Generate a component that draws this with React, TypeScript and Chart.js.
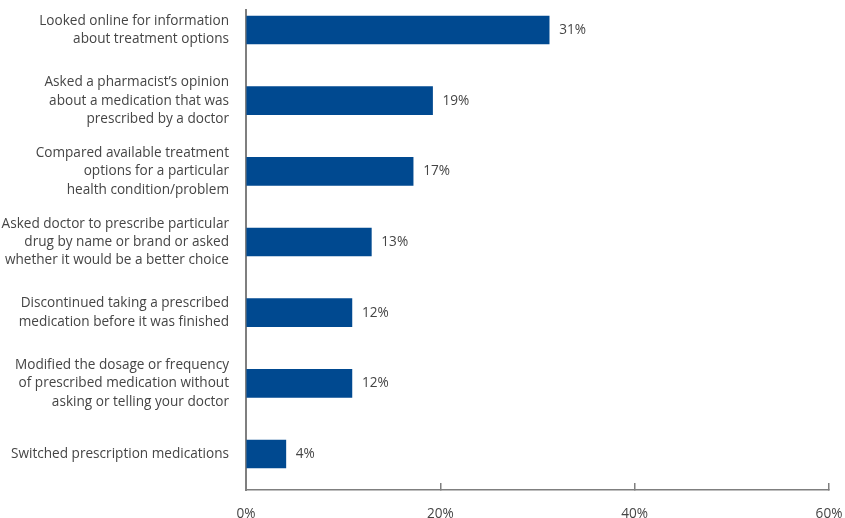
import React, { useEffect, useRef } from "react";
import { Chart, registerables } from "chart.js";

Chart.register(...registerables);

const categories: string[][] = [
  ["Looked online for information", "about treatment options"],
  ["Asked a pharmacist\u2019s opinion", "about a medication that was", "prescribed by a doctor"],
  ["Compared available treatment", "options for a particular", "health condition/problem"],
  ["Asked doctor to prescribe particular", "drug by name or brand or asked", "whether it would be a better choice"],
  ["Discontinued taking a prescribed", "medication before it was finished"],
  ["Modified the dosage or frequency", "of prescribed medication without", "asking or telling your doctor"],
  ["Switched prescription medications"],
];
const values: number[] = [31.2, 19.2, 17.2, 12.9, 10.9, 10.9, 4.1];
const valueLabels: string[] = ["31%", "19%", "17%", "13%", "12%", "12%", "4%"];
const xTicks: number[] = [0, 20, 40, 60];

const FONT = "'Open Sans', 'Noto Sans', sans-serif";
const FONT_SIZE = 13.6;
const TEXT = "#454545";
const AXIS = "#7f7f7f";
const BAR = "#004990";

const valueLabelPlugin = {
  id: "valueLabels",
  afterDatasetsDraw(chart: any) {
    const ctx = chart.ctx;
    const meta = chart.getDatasetMeta(0);
    ctx.save();
    ctx.font = `${FONT_SIZE}px ${FONT}`;
    ctx.fillStyle = TEXT;
    ctx.textAlign = "left";
    ctx.textBaseline = "middle";
    meta.data.forEach((el: any, i: number) => {
      ctx.fillText(valueLabels[i], el.x + 10, el.y);
    });
    ctx.restore();
  },
};

export default function App() {
  const ref = useRef<HTMLCanvasElement | null>(null);
  useEffect(() => {
    if (!ref.current) return;
    const chart = new Chart(ref.current, {
      type: "bar",
      data: {
        datasets: [
          {
            data: values.map((v, i) => ({ x: v, y: i })),
            backgroundColor: BAR,
            borderWidth: 0,
            barThickness: 28,
          },
        ],
      },
      options: {
        indexAxis: "y",
        animation: false,
        responsive: false,
        maintainAspectRatio: false,
        layout: { padding: { top: 10, right: 16, bottom: 0, left: 0 } },
        plugins: { legend: { display: false }, tooltip: { enabled: false } },
        scales: {
          x: {
            type: "linear",
            min: 0,
            max: 60,
            afterFit: (s: any) => {
              s.height = 28;
              s.paddingLeft = 0;
              s.paddingRight = 0;
            },
            afterBuildTicks: (s: any) => {
              s.ticks = xTicks.map((v) => ({ value: v }));
            },
            grid: {
              display: true,
              drawOnChartArea: false,
              drawTicks: true,
              tickLength: -7,
              color: AXIS,
              lineWidth: 1.5,
            },
            border: { display: true, color: AXIS, width: 1.5 },
            ticks: {
              padding: 23,
              color: TEXT,
              font: { family: FONT, size: FONT_SIZE },
              callback: (v: any) => `${v}%`,
            },
          },
          y: {
            type: "linear",
            offset: false,
            reverse: true,
            min: -0.283,
            max: 6.509,
            afterFit: (s: any) => {
              s.width = 246;
              s.paddingTop = 0;
              s.paddingBottom = 0;
            },
            grid: { display: false },
            border: { display: true, color: AXIS, width: 2 },
            ticks: {
              stepSize: 1,
              includeBounds: false,
              autoSkip: false,
              padding: 9,
              color: TEXT,
              font: { family: FONT, size: FONT_SIZE, lineHeight: 1.35 },
              callback: (v: any) =>
                Number.isInteger(v) && categories[v] ? categories[v] : "",
            },
          },
        },
      },
      plugins: [valueLabelPlugin],
    });
    return () => chart.destroy();
  }, []);
  return (
    <div style={{ position: "fixed", left: 0, top: 0, width: 845, height: 518, background: "#fff" }}>
      <canvas ref={ref} width={845} height={518} style={{ width: 845, height: 518 }} />
    </div>
  );
}
